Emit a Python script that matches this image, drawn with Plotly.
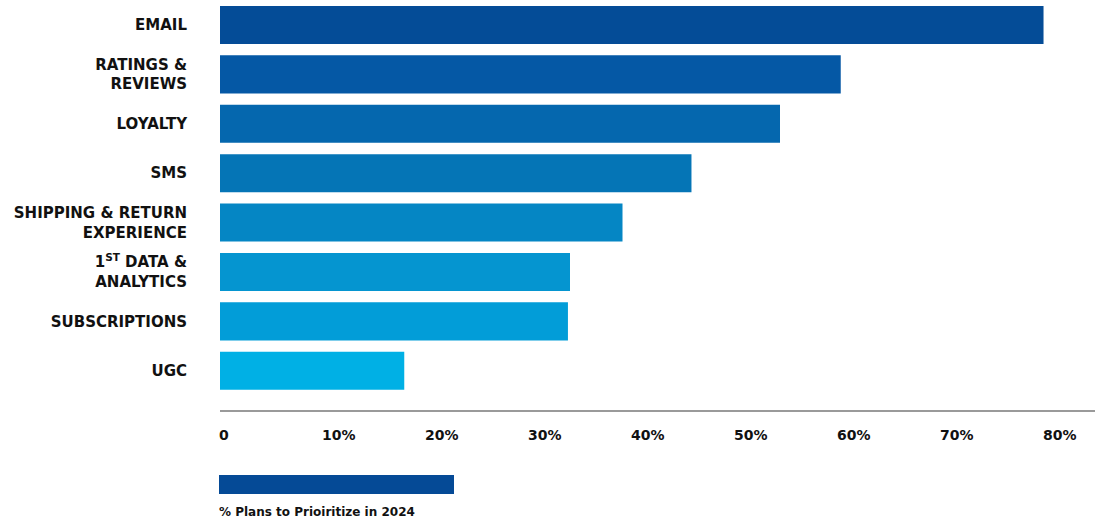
import plotly.graph_objects as go

# Marketing channels and the share of respondents prioritizing each one
categories = [
    "EMAIL",
    "RATINGS &<br>REVIEWS",
    "LOYALTY",
    "SMS",
    "SHIPPING & RETURN<br>EXPERIENCE",
    "1<sup>ST</sup> DATA &<br>ANALYTICS",
    "SUBSCRIPTIONS",
    "UGC",
]
values = [80, 60.3, 54.4, 45.8, 39.1, 34.0, 33.8, 17.9]
bar_colors = [
    "#044C97", "#0558A5", "#0567AE", "#0575B6",
    "#0586C4", "#0595D0", "#029DD8", "#00B0E5",
]
tick_values = [0, 10, 20, 30, 40, 50, 60, 70, 80]
tick_labels = ["0", "10%", "20%", "30%", "40%", "50%", "60%", "70%", "80%"]
series_name = "% Plans to Prioiritize in 2024"
legend_color = "#054A96"

W, H = 1095, 523
M_L, M_R, M_T, M_B = 220, 0, 0, 113

fig = go.Figure(
    go.Bar(
        x=values,
        y=list(range(len(categories))),
        orientation="h",
        marker=dict(color=bar_colors, line=dict(width=0)),
        name=series_name,
        hoverinfo="x+name",
    )
)

# Value-axis tick labels, left-aligned at their tick positions
annotations = [
    dict(
        x=v, y=0, xref="x", yref="paper",
        text=f"<b>{t}</b>", showarrow=False,
        xanchor="left", yanchor="middle", yshift=-25, xshift=-3,
        font=dict(family="DejaVu Sans", size=14, color="#111111"),
    )
    for v, t in zip(tick_values, tick_labels)
]

# Legend: long swatch with its caption underneath
plot_h = H - M_T - M_B
annotations.append(
    dict(
        x=0, y=-(512 - (H - M_B)) / plot_h, xref="paper", yref="paper",
        text=f"<b>{series_name}</b>", showarrow=False,
        xanchor="left", yanchor="middle", xshift=-3,
        font=dict(family="DejaVu Sans", size=12, color="#111111"),
    )
)
shapes = [
    dict(
        type="rect", xref="paper", yref="paper",
        x0=-1 / (W - M_L), x1=(454 - M_L) / (W - M_L),
        y0=-(494 - (H - M_B)) / plot_h, y1=-(475 - (H - M_B)) / plot_h,
        fillcolor=legend_color, line=dict(width=0), layer="above",
    )
]

fig.update_layout(
    width=W, height=H,
    margin=dict(l=M_L, r=M_R, t=M_T, b=M_B),
    paper_bgcolor="white", plot_bgcolor="white",
    bargap=0.23,
    showlegend=False,
    annotations=annotations,
    shapes=shapes,
    xaxis=dict(
        range=[0, 85],
        showgrid=False, zeroline=False,
        showline=True, linecolor="#9a9a9a", linewidth=2,
        showticklabels=False, ticks="",
        fixedrange=True,
    ),
    yaxis=dict(
        tickmode="array",
        tickvals=list(range(len(categories))),
        ticktext=[f"<b>{c}</b>" for c in categories],
        range=[7.794, -0.506],
        showgrid=False, zeroline=False, showline=False,
        ticks="", ticklabelstandoff=32,
        tickfont=dict(family="DejaVu Sans", size=15, color="#111111"),
        fixedrange=True,
    ),
)

fig.write_html("out.html")
